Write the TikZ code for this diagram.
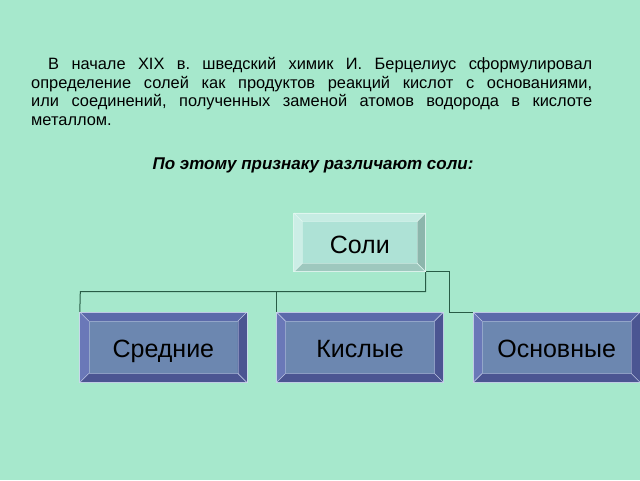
\documentclass[tikz,border=0pt]{standalone}
\usepackage{fontspec}
\setmainfont{Liberation Sans}
\usetikzlibrary{calc}
\definecolor{bgmint}{RGB}{166,232,204}
\definecolor{linegreen}{RGB}{40,92,70}
\definecolor{mintface}{RGB}{174,226,214}
\definecolor{minttop}{RGB}{198,236,227}
\definecolor{mintleft}{RGB}{204,238,230}
\definecolor{mintright}{RGB}{140,182,172}
\definecolor{mintbottom}{RGB}{158,200,190}
\definecolor{blueface}{RGB}{108,135,176}
\definecolor{bluetop}{RGB}{92,106,170}
\definecolor{blueleft}{RGB}{106,120,184}
\definecolor{blueright}{RGB}{75,85,146}
\definecolor{bluebottom}{RGB}{75,85,146}
\definecolor{blueedge}{RGB}{208,216,240}
\definecolor{mintedge}{RGB}{228,248,242}
\tikzset{
  mintbox/.style={draw=none, fill=mintface, minimum width=131.5pt, minimum height=58.5pt, inner sep=0pt},
  bluebox/.style={draw=none, fill=blueface, minimum width=166.7pt, minimum height=70pt, inner sep=0pt},
  boxlabel/.style={font=\fontsize{25}{27}\selectfont, anchor=base, inner sep=0pt},
  conn/.style={draw=linegreen, line width=1pt}
}
% bevel: #1 node, #2 bevel size, #3 top, #4 left, #5 right, #6 bottom, #7 edge
\newcommand\bevelit[7]{%
  \coordinate (#1-a) at ([shift={(#2,#2)}]#1.north west);
  \coordinate (#1-b) at ([shift={(-#2,#2)}]#1.north east);
  \coordinate (#1-c) at ([shift={(-#2,-#2)}]#1.south east);
  \coordinate (#1-d) at ([shift={(#2,-#2)}]#1.south west);
  \fill[#3] (#1.north west) -- (#1.north east) -- (#1-b) -- (#1-a) -- cycle;
  \fill[#4] (#1.north west) -- (#1-a) -- (#1-d) -- (#1.south west) -- cycle;
  \fill[#5] (#1.north east) -- (#1.south east) -- (#1-c) -- (#1-b) -- cycle;
  \fill[#6] (#1.south west) -- (#1-d) -- (#1-c) -- (#1.south east) -- cycle;
  \draw[#7, line width=0.8pt, opacity=0.85] (#1.north west) rectangle (#1.south east);
  \draw[#7, line width=0.6pt, opacity=0.85] (#1.north west) -- (#1-a) (#1.north east) -- (#1-b)
     (#1.south east) -- (#1-c) (#1.south west) -- (#1-d);
  \draw[#7, line width=0.4pt, opacity=0.4] (#1-a) rectangle (#1-c);
}
\begin{document}
\begin{tikzpicture}[x=1pt, y=-1pt]
\useasboundingbox (0,0) rectangle (640,480);
\fill[bgmint] (0,0) rectangle (640,480);

\node[anchor=base west, text width=561pt, align=justify, inner sep=0pt,
      font=\fontsize{16.4}{18.5}\selectfont\frenchspacing] (para) at (31,69.8)
  {\hspace*{17pt}В начале XIX в. шведский химик И. Берцелиус сформулировал\linebreak
   определение солей как продуктов реакций кислот с основаниями,\linebreak
   или соединений, полученных заменой атомов водорода в кислоте\linebreak
   металлом.};

\node[anchor=base, inner sep=0pt, font=\fontsize{17}{19}\selectfont\bfseries\itshape] (lead) at (313,169)
  {По этому признаку различают соли:};

\coordinate (busL) at (80.3,291.7);
\coordinate (midR) at (449.3,300);

\node[mintbox] (soli) at (359.75,242.4) {};
\node[bluebox] (sred) at (163.35,347.3) {};
\node[bluebox] (kisl) at (360,347.3) {};
\node[bluebox] (osn) at (556.65,347.3) {};

\draw[conn] (soli.south east) |- (busL) -- (sred.north west);
\draw[conn] (kisl.north west) -- (kisl.north west |- busL);
\draw[conn] (soli.south east) -| (midR) |- (osn.north west);

\bevelit{soli}{8.6}{minttop}{mintleft}{mintright}{mintbottom}{mintedge}
\bevelit{sred}{9}{bluetop}{blueleft}{blueright}{bluebottom}{blueedge}
\bevelit{kisl}{9}{bluetop}{blueleft}{blueright}{bluebottom}{blueedge}
\bevelit{osn}{9}{bluetop}{blueleft}{blueright}{bluebottom}{blueedge}

\node[boxlabel] (soliT) at (359.75,253.3) {Соли};
\node[boxlabel] (sredT) at (163.35,357.3) {Средние};
\node[boxlabel] (kislT) at (360,357.3) {Кислые};
\node[boxlabel] (osnT) at (556.65,357.3) {Основные};
\end{tikzpicture}
\end{document}
